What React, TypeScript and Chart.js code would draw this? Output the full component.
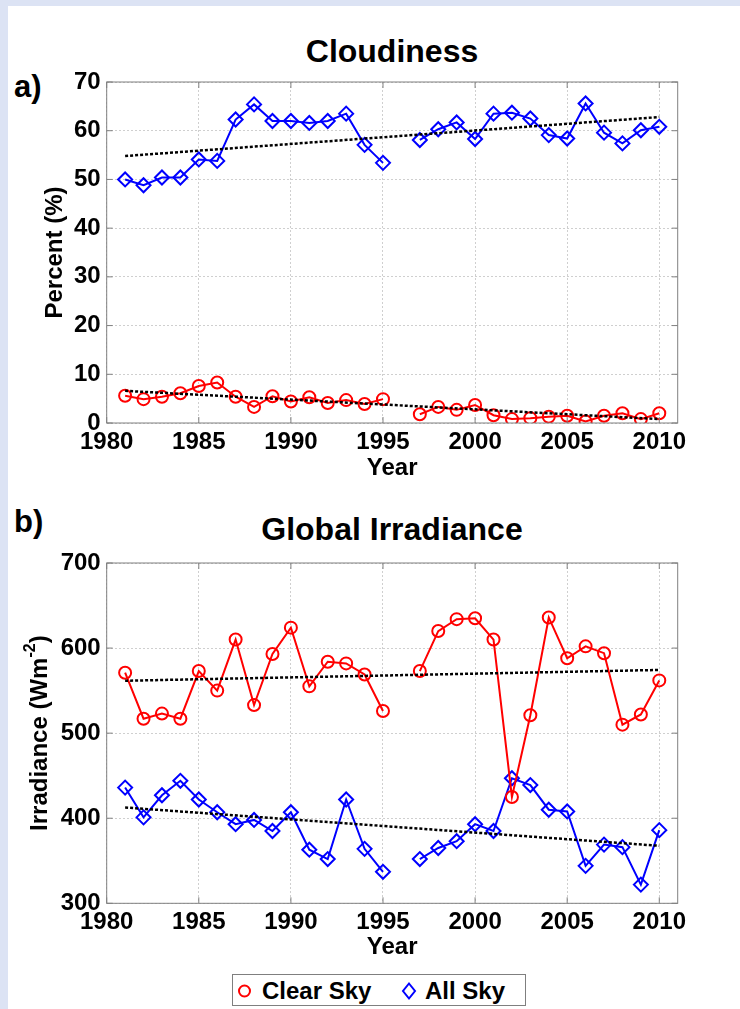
import React, { useEffect, useRef } from "react";
import { Chart, registerables } from "chart.js";

Chart.register(...registerables);

// ---------- data ----------
const years = [1981, 1982, 1983, 1984, 1985, 1986, 1987, 1988, 1989, 1990, 1991, 1992, 1993, 1994, 1995, 1996, 1997, 1998, 1999, 2000, 2001, 2002, 2003, 2004, 2005, 2006, 2007, 2008, 2009, 2010];
const cloudClear = [5.6, 4.9, 5.4, 6.1, 7.6, 8.3, 5.4, 3.3, 5.5, 4.4, 5.3, 4.1, 4.7, 3.9, 4.9, null, 1.8, 3.3, 2.7, 3.7, 1.6, 0.8, 1.0, 1.3, 1.5, 0.3, 1.5, 2.0, 0.8, 2.0];
const cloudAll = [50.0, 48.8, 50.4, 50.4, 54.1, 53.8, 62.3, 65.4, 62.0, 62.0, 61.6, 62.0, 63.5, 57.1, 53.4, null, 58.1, 60.3, 61.7, 58.3, 63.5, 63.7, 62.5, 59.1, 58.4, 65.6, 59.6, 57.4, 60.1, 60.8];
const irrClear = [571, 517, 523, 517, 573, 550, 610, 533, 593, 624, 555, 584, 582, 569, 526, null, 573, 620, 634, 635, 610, 425, 521, 636, 588, 602, 594, 510, 522, 562];
const irrAll = [436, 401, 427, 444, 422, 407, 393, 398, 385, 407, 363, 352, 422, 364, 337, null, 352, 365, 373, 393, 385, 447, 439, 410, 408, 344, 369, 366, 322, 386];
const trendYears = [1981, 2010];
const cloudClearTrend = [6.6, 0.8];
const cloudAllTrend = [54.8, 62.8];
const irrClearTrend = [561.6, 574.3];
const irrAllTrend = [412.6, 367.6];
const xTicks = [1980, 1985, 1990, 1995, 2000, 2005, 2010];
const cloudTicks = [0, 10, 20, 30, 40, 50, 60, 70];
const irrTicks = [300, 400, 500, 600, 700];

const FONT = "'Liberation Sans', Arial, Helvetica, sans-serif";
const RED = "#ff0000";
const BLUE = "#0000ff";

const pts = (xs: number[], ys: (number | null)[]) => xs.map((x, i) => ({ x, y: ys[i] }));

const boxPlugin = {
  id: "matlabBox",
  afterDatasetsDraw(chart: any) {
    const { ctx, chartArea: a, scales } = chart;
    const xs = scales.x;
    const ys = scales.y;
    ctx.save();
    ctx.strokeStyle = "#808080";
    ctx.lineWidth = 1;
    ctx.setLineDash([]);
    ctx.strokeRect(a.left, a.top, a.right - a.left, a.bottom - a.top);
    const tl = 6;
    ctx.beginPath();
    xs.ticks.forEach((t: any) => {
      const px = xs.getPixelForValue(t.value);
      ctx.moveTo(px, a.bottom);
      ctx.lineTo(px, a.bottom - tl);
      ctx.moveTo(px, a.top);
      ctx.lineTo(px, a.top + tl);
    });
    ys.ticks.forEach((t: any) => {
      const py = ys.getPixelForValue(t.value);
      ctx.moveTo(a.left, py);
      ctx.lineTo(a.left + tl, py);
      ctx.moveTo(a.right, py);
      ctx.lineTo(a.right - tl, py);
    });
    ctx.stroke();
    ctx.restore();
  },
};

const irrTitlePlugin = {
  id: "irrTitle",
  afterDraw(chart: any) {
    const { ctx, chartArea: a } = chart;
    ctx.save();
    const big = `bold 24px ${FONT}`;
    const small = `bold 16px ${FONT}`;
    ctx.font = big;
    const w1 = ctx.measureText("Irradiance (Wm").width;
    const w3 = ctx.measureText(")").width;
    ctx.font = small;
    const w2 = ctx.measureText("-2").width;
    const total = w1 + w2 + w3;
    const cy = (a.top + a.bottom) / 2;
    ctx.translate(40, cy);
    ctx.rotate(-Math.PI / 2);
    ctx.fillStyle = "#000";
    ctx.textBaseline = "middle";
    ctx.textAlign = "left";
    let x = -total / 2;
    ctx.font = big;
    ctx.fillText("Irradiance (Wm", x, 0);
    x += w1;
    ctx.font = small;
    ctx.fillText("-2", x, -9);
    x += w2;
    ctx.font = big;
    ctx.fillText(")", x, 0);
    ctx.restore();
  },
};

function makeConfig(opts: {
  clear: (number | null)[];
  all: (number | null)[];
  clearTrend: number[];
  allTrend: number[];
  yMin: number;
  yMax: number;
  yTicks: number[];
  yTitle: string | null;
  yTitlePad: number;
  padTop: number;
  xHeight: number;
  yearPad: number;
  extraPlugins: any[];
}) {
  const tickFont = { family: FONT, size: 24, weight: "bold" as const };
  return {
    type: "line" as const,
    data: {
      datasets: [
        {
          label: "trendClear",
          data: pts(trendYears, opts.clearTrend),
          borderColor: "#000",
          borderWidth: 2.5,
          borderDash: [3, 2],
          pointRadius: 0,
          fill: false,
          order: 0,
        },
        {
          label: "trendAll",
          data: pts(trendYears, opts.allTrend),
          borderColor: "#000",
          borderWidth: 2.5,
          borderDash: [3, 2],
          pointRadius: 0,
          fill: false,
          order: 0,
        },
        {
          label: "Clear Sky",
          data: pts(years, opts.clear),
          borderColor: RED,
          borderWidth: 2,
          pointStyle: "circle",
          pointRadius: 6,
          pointBorderWidth: 2,
          pointBorderColor: RED,
          pointBackgroundColor: "rgba(0,0,0,0)",
          spanGaps: false,
          fill: false,
          order: 1,
        },
        {
          label: "All Sky",
          data: pts(years, opts.all),
          borderColor: BLUE,
          borderWidth: 2,
          pointStyle: "rectRot",
          pointRadius: 7,
          pointBorderWidth: 2,
          pointBorderColor: BLUE,
          pointBackgroundColor: "rgba(0,0,0,0)",
          spanGaps: false,
          fill: false,
          order: 2,
        },
      ],
    },
    options: {
      responsive: false,
      animation: false as const,
      devicePixelRatio: 1,
      layout: { padding: { top: opts.padTop, right: 62.3, left: 0, bottom: 0 } },
      plugins: { legend: { display: false }, tooltip: { enabled: false }, title: { display: false } },
      elements: { line: { tension: 0 } },
      scales: {
        x: {
          type: "linear" as const,
          min: 1980,
          max: 2011,
          afterBuildTicks: (s: any) => {
            s.ticks = xTicks.map((v) => ({ value: v }));
          },
          afterFit: (s: any) => {
            s.height = opts.xHeight;
          },
          ticks: { font: tickFont, color: "#000", padding: 5, maxRotation: 0, autoSkip: false, callback: (v: any) => String(v) },
          grid: { color: "#cfcfcf", lineWidth: 1, drawTicks: false },
          border: { display: false, dash: [2, 2] },
          title: { display: true, text: "Year", font: tickFont, color: "#000", padding: { top: 0, bottom: opts.yearPad } },
        },
        y: {
          type: "linear" as const,
          min: opts.yMin,
          max: opts.yMax,
          afterBuildTicks: (s: any) => {
            s.ticks = opts.yTicks.map((v) => ({ value: v }));
          },
          afterFit: (s: any) => {
            s.width = 106.7;
          },
          ticks: { font: tickFont, color: "#000", padding: 6 },
          grid: { color: "#cfcfcf", lineWidth: 1, drawTicks: false },
          border: { display: false, dash: [2, 2] },
          title: {
            display: !!opts.yTitle,
            text: opts.yTitle || "",
            font: tickFont,
            color: "#000",
            padding: { top: opts.yTitlePad, bottom: 0 },
          },
        },
      },
    },
    plugins: [boxPlugin, ...opts.extraPlugins],
  };
}

function ChartCanvas({ config, width, height, top }: { config: any; width: number; height: number; top: number }) {
  const ref = useRef<HTMLCanvasElement | null>(null);
  useEffect(() => {
    if (!ref.current) return;
    const c = new Chart(ref.current, config);
    return () => c.destroy();
  }, []);
  return (
    <canvas
      ref={ref}
      width={width}
      height={height}
      style={{ position: "absolute", left: 0, top, width, height }}
    />
  );
}

export default function App() {
  const cfg1 = makeConfig({
    clear: cloudClear,
    all: cloudAll,
    clearTrend: cloudClearTrend,
    allTrend: cloudAllTrend,
    yMin: 0,
    yMax: 70,
    yTicks: cloudTicks,
    yTitle: "Percent (%)",
    yTitlePad: 40.6,
    padTop: 82,
    xHeight: 67,
    yearPad: 7.6,
    extraPlugins: [],
  });
  const cfg2 = makeConfig({
    clear: irrClear,
    all: irrAll,
    clearTrend: irrClearTrend,
    allTrend: irrAllTrend,
    yMin: 300,
    yMax: 700,
    yTicks: irrTicks,
    yTitle: null,
    yTitlePad: 0,
    padTop: 73,
    xHeight: 66.7,
    yearPad: 8.6,
    extraPlugins: [irrTitlePlugin],
  });
  const titleStyle: React.CSSProperties = {
    position: "absolute",
    left: 192,
    width: 400,
    textAlign: "center",
    fontFamily: FONT,
    fontWeight: "bold",
    fontSize: 32,
    lineHeight: "32px",
    color: "#000",
    whiteSpace: "nowrap",
  };
  const labStyle: React.CSSProperties = {
    position: "absolute",
    left: 14,
    fontFamily: FONT,
    fontWeight: "bold",
    fontSize: 31,
    lineHeight: "31px",
    color: "#000",
  };
  const legText: React.CSSProperties = {
    position: "absolute",
    top: 0,
    fontFamily: FONT,
    fontWeight: "bold",
    fontSize: 24,
    lineHeight: "31px",
    color: "#000",
    whiteSpace: "nowrap",
  };
  return (
    <div style={{ position: "absolute", left: 0, top: 0, width: 740, height: 1009, background: "#dce3f4", overflow: "hidden" }}>
      <div style={{ position: "absolute", left: 8, top: 6, width: 732, height: 1003, background: "#ffffff" }} />
      <div style={{ ...titleStyle, top: 35 }}>Cloudiness</div>
      <div style={{ ...titleStyle, top: 513 }}>Global Irradiance</div>
      <div style={{ ...labStyle, top: 71 }}>a)</div>
      <div style={{ ...labStyle, top: 506 }}>b)</div>
      <ChartCanvas config={cfg1} width={740} height={490} top={0} />
      <ChartCanvas config={cfg2} width={740} height={480} top={490} />
      <div
        style={{
          position: "absolute",
          left: 232,
          top: 974,
          width: 294,
          height: 32,
          boxSizing: "border-box",
          border: "1px solid #7f7f7f",
          background: "#fff",
        }}
      >
        <svg width={294} height={32} style={{ position: "absolute", left: 0, top: 0 }}>
          <circle cx={11.5} cy={16} r={5.5} fill="none" stroke={RED} strokeWidth={2} />
          <polygon points="176,8.5 182,16 176,23.5 170,16" fill="none" stroke={BLUE} strokeWidth={2} />
        </svg>
        <span style={{ ...legText, left: 29 }}>Clear Sky</span>
        <span style={{ ...legText, left: 192 }}>All Sky</span>
      </div>
    </div>
  );
}
